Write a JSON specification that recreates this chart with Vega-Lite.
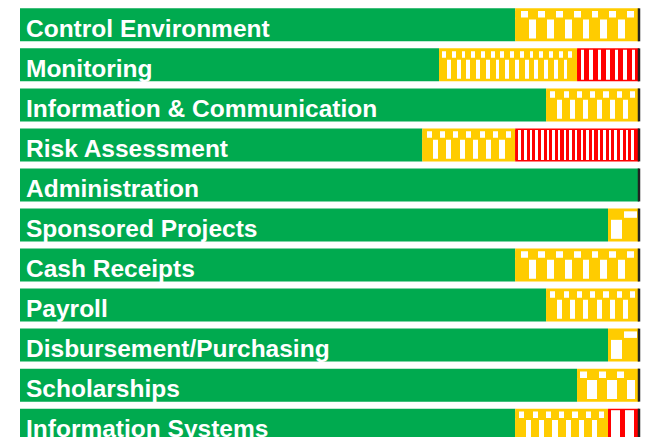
{
  "$schema": "https://vega.github.io/schema/vega-lite/v6.json",
  "width": 619,
  "height": 450,
  "padding": {"left": 20, "top": 0, "right": 0, "bottom": 0},
  "background": "white",
  "config": {"view": {"stroke": null}},
  "data": {"values": [
    {"item": "Control Environment", "level": "green", "order": 1, "value": 80},
    {"item": "Control Environment", "level": "yellow", "order": 2, "value": 20},
    {"item": "Monitoring", "level": "green", "order": 1, "value": 67.7},
    {"item": "Monitoring", "level": "yellow", "order": 2, "value": 22.3},
    {"item": "Monitoring", "level": "red", "order": 3, "value": 10},
    {"item": "Information & Communication", "level": "green", "order": 1, "value": 85},
    {"item": "Information & Communication", "level": "yellow", "order": 2, "value": 15},
    {"item": "Risk Assessment", "level": "green", "order": 1, "value": 65},
    {"item": "Risk Assessment", "level": "yellow", "order": 2, "value": 15},
    {"item": "Risk Assessment", "level": "red", "order": 3, "value": 20},
    {"item": "Administration", "level": "green", "order": 1, "value": 100},
    {"item": "Sponsored Projects", "level": "green", "order": 1, "value": 95},
    {"item": "Sponsored Projects", "level": "yellow", "order": 2, "value": 5},
    {"item": "Cash Receipts", "level": "green", "order": 1, "value": 80},
    {"item": "Cash Receipts", "level": "yellow", "order": 2, "value": 20},
    {"item": "Payroll", "level": "green", "order": 1, "value": 85},
    {"item": "Payroll", "level": "yellow", "order": 2, "value": 15},
    {"item": "Disbursement/Purchasing", "level": "green", "order": 1, "value": 95},
    {"item": "Disbursement/Purchasing", "level": "yellow", "order": 2, "value": 5},
    {"item": "Scholarships", "level": "green", "order": 1, "value": 90},
    {"item": "Scholarships", "level": "yellow", "order": 2, "value": 10},
    {"item": "Information Systems", "level": "green", "order": 1, "value": 80},
    {"item": "Information Systems", "level": "yellow", "order": 2, "value": 15},
    {"item": "Information Systems", "level": "red", "order": 3, "value": 5}
  ]},
  "transform": [
    {"stack": "value", "groupby": ["item"], "sort": [{"field": "order", "order": "ascending"}], "as": ["x0", "x1"]}
  ],
  "encoding": {
    "y": {"field": "item", "type": "nominal", "axis": null,
      "scale": {"domain": ["Control Environment", "Monitoring", "Information & Communication", "Risk Assessment", "Administration", "Sponsored Projects", "Cash Receipts", "Payroll", "Disbursement/Purchasing", "Scholarships", "Information Systems"], "paddingInner": 0.175, "paddingOuter": 0.2075}}
  },
  "layer": [
    {
      "mark": {"type": "bar"},
      "encoding": {
        "x": {"field": "x0", "type": "quantitative", "axis": null, "scale": {"domain": [0, 100], "nice": false, "zero": false}},
        "x2": {"field": "x1"},
        "color": {"field": "level", "type": "nominal", "legend": null, "scale": {"domain": ["green", "yellow", "red"], "range": ["#00AA4F", "#FFCC00", "#FF0000"]}}
      }
    },
    {
      "transform": [{"filter": "datum.level=='yellow' && indexof(['Control Environment','Information & Communication','Risk Assessment','Cash Receipts','Payroll','Information Systems'], datum.item) >= 0"}],
      "mark": {"type": "bar", "height": 19, "yOffset": 4.3, "color": {"gradient": "linear", "x1": 0, "y1": 0, "x2": 1, "y2": 0, "stops": [
        {"offset": 0, "color": "#FFCC00"},
        {"offset": 0.115, "color": "#FFCC00"}, {"offset": 0.115, "color": "#FFFFFF"}, {"offset": 0.17, "color": "#FFFFFF"}, {"offset": 0.17, "color": "#FFCC00"},
        {"offset": 0.258, "color": "#FFCC00"}, {"offset": 0.258, "color": "#FFFFFF"}, {"offset": 0.313, "color": "#FFFFFF"}, {"offset": 0.313, "color": "#FFCC00"},
        {"offset": 0.401, "color": "#FFCC00"}, {"offset": 0.401, "color": "#FFFFFF"}, {"offset": 0.456, "color": "#FFFFFF"}, {"offset": 0.456, "color": "#FFCC00"},
        {"offset": 0.544, "color": "#FFCC00"}, {"offset": 0.544, "color": "#FFFFFF"}, {"offset": 0.599, "color": "#FFFFFF"}, {"offset": 0.599, "color": "#FFCC00"},
        {"offset": 0.687, "color": "#FFCC00"}, {"offset": 0.687, "color": "#FFFFFF"}, {"offset": 0.742, "color": "#FFFFFF"}, {"offset": 0.742, "color": "#FFCC00"},
        {"offset": 0.83, "color": "#FFCC00"}, {"offset": 0.83, "color": "#FFFFFF"}, {"offset": 0.885, "color": "#FFFFFF"}, {"offset": 0.885, "color": "#FFCC00"},
        {"offset": 1, "color": "#FFCC00"}
      ]}},
      "encoding": {"x": {"field": "x0", "type": "quantitative"}, "x2": {"field": "x1"}}
    },
    {
      "transform": [{"filter": "datum.level=='yellow' && indexof(['Control Environment','Information & Communication','Risk Assessment','Cash Receipts','Payroll','Information Systems'], datum.item) >= 0"}],
      "mark": {"type": "bar", "height": 6.5, "yOffset": -10.45, "color": {"gradient": "linear", "x1": 0, "y1": 0, "x2": 1, "y2": 0, "stops": [
        {"offset": 0, "color": "#FFCC00"},
        {"offset": 0.045, "color": "#FFCC00"}, {"offset": 0.045, "color": "#FFFFFF"}, {"offset": 0.1, "color": "#FFFFFF"}, {"offset": 0.1, "color": "#FFCC00"},
        {"offset": 0.188, "color": "#FFCC00"}, {"offset": 0.188, "color": "#FFFFFF"}, {"offset": 0.243, "color": "#FFFFFF"}, {"offset": 0.243, "color": "#FFCC00"},
        {"offset": 0.331, "color": "#FFCC00"}, {"offset": 0.331, "color": "#FFFFFF"}, {"offset": 0.386, "color": "#FFFFFF"}, {"offset": 0.386, "color": "#FFCC00"},
        {"offset": 0.474, "color": "#FFCC00"}, {"offset": 0.474, "color": "#FFFFFF"}, {"offset": 0.529, "color": "#FFFFFF"}, {"offset": 0.529, "color": "#FFCC00"},
        {"offset": 0.617, "color": "#FFCC00"}, {"offset": 0.617, "color": "#FFFFFF"}, {"offset": 0.672, "color": "#FFFFFF"}, {"offset": 0.672, "color": "#FFCC00"},
        {"offset": 0.76, "color": "#FFCC00"}, {"offset": 0.76, "color": "#FFFFFF"}, {"offset": 0.815, "color": "#FFFFFF"}, {"offset": 0.815, "color": "#FFCC00"},
        {"offset": 0.903, "color": "#FFCC00"}, {"offset": 0.903, "color": "#FFFFFF"}, {"offset": 0.958, "color": "#FFFFFF"}, {"offset": 0.958, "color": "#FFCC00"},
        {"offset": 1, "color": "#FFCC00"}
      ]}},
      "encoding": {"x": {"field": "x0", "type": "quantitative"}, "x2": {"field": "x1"}}
    },
    {
      "transform": [{"filter": "datum.level=='yellow' && datum.item=='Monitoring'"}],
      "mark": {"type": "bar", "height": 19, "yOffset": 4.3, "color": {"gradient": "linear", "x1": 0, "y1": 0, "x2": 1, "y2": 0, "stops": [
        {"offset": 0, "color": "#FFCC00"},
        {"offset": 0.057, "color": "#FFCC00"}, {"offset": 0.057, "color": "#FFFFFF"}, {"offset": 0.085, "color": "#FFFFFF"}, {"offset": 0.085, "color": "#FFCC00"},
        {"offset": 0.1274, "color": "#FFCC00"}, {"offset": 0.1274, "color": "#FFFFFF"}, {"offset": 0.1554, "color": "#FFFFFF"}, {"offset": 0.1554, "color": "#FFCC00"},
        {"offset": 0.1978, "color": "#FFCC00"}, {"offset": 0.1978, "color": "#FFFFFF"}, {"offset": 0.2258, "color": "#FFFFFF"}, {"offset": 0.2258, "color": "#FFCC00"},
        {"offset": 0.2682, "color": "#FFCC00"}, {"offset": 0.2682, "color": "#FFFFFF"}, {"offset": 0.2962, "color": "#FFFFFF"}, {"offset": 0.2962, "color": "#FFCC00"},
        {"offset": 0.3386, "color": "#FFCC00"}, {"offset": 0.3386, "color": "#FFFFFF"}, {"offset": 0.3666, "color": "#FFFFFF"}, {"offset": 0.3666, "color": "#FFCC00"},
        {"offset": 0.409, "color": "#FFCC00"}, {"offset": 0.409, "color": "#FFFFFF"}, {"offset": 0.437, "color": "#FFFFFF"}, {"offset": 0.437, "color": "#FFCC00"},
        {"offset": 0.4794, "color": "#FFCC00"}, {"offset": 0.4794, "color": "#FFFFFF"}, {"offset": 0.5074, "color": "#FFFFFF"}, {"offset": 0.5074, "color": "#FFCC00"},
        {"offset": 0.5498, "color": "#FFCC00"}, {"offset": 0.5498, "color": "#FFFFFF"}, {"offset": 0.5778, "color": "#FFFFFF"}, {"offset": 0.5778, "color": "#FFCC00"},
        {"offset": 0.6202, "color": "#FFCC00"}, {"offset": 0.6202, "color": "#FFFFFF"}, {"offset": 0.6482, "color": "#FFFFFF"}, {"offset": 0.6482, "color": "#FFCC00"},
        {"offset": 0.6906, "color": "#FFCC00"}, {"offset": 0.6906, "color": "#FFFFFF"}, {"offset": 0.7186, "color": "#FFFFFF"}, {"offset": 0.7186, "color": "#FFCC00"},
        {"offset": 0.761, "color": "#FFCC00"}, {"offset": 0.761, "color": "#FFFFFF"}, {"offset": 0.789, "color": "#FFFFFF"}, {"offset": 0.789, "color": "#FFCC00"},
        {"offset": 0.8314, "color": "#FFCC00"}, {"offset": 0.8314, "color": "#FFFFFF"}, {"offset": 0.8594, "color": "#FFFFFF"}, {"offset": 0.8594, "color": "#FFCC00"},
        {"offset": 0.9018, "color": "#FFCC00"}, {"offset": 0.9018, "color": "#FFFFFF"}, {"offset": 0.9298, "color": "#FFFFFF"}, {"offset": 0.9298, "color": "#FFCC00"},
        {"offset": 1, "color": "#FFCC00"}
      ]}},
      "encoding": {"x": {"field": "x0", "type": "quantitative"}, "x2": {"field": "x1"}}
    },
    {
      "transform": [{"filter": "datum.level=='yellow' && datum.item=='Monitoring'"}],
      "mark": {"type": "bar", "height": 6.5, "yOffset": -10.45, "color": {"gradient": "linear", "x1": 0, "y1": 0, "x2": 1, "y2": 0, "stops": [
        {"offset": 0, "color": "#FFCC00"},
        {"offset": 0.022, "color": "#FFCC00"}, {"offset": 0.022, "color": "#FFFFFF"}, {"offset": 0.05, "color": "#FFFFFF"}, {"offset": 0.05, "color": "#FFCC00"},
        {"offset": 0.0924, "color": "#FFCC00"}, {"offset": 0.0924, "color": "#FFFFFF"}, {"offset": 0.1204, "color": "#FFFFFF"}, {"offset": 0.1204, "color": "#FFCC00"},
        {"offset": 0.1628, "color": "#FFCC00"}, {"offset": 0.1628, "color": "#FFFFFF"}, {"offset": 0.1908, "color": "#FFFFFF"}, {"offset": 0.1908, "color": "#FFCC00"},
        {"offset": 0.2332, "color": "#FFCC00"}, {"offset": 0.2332, "color": "#FFFFFF"}, {"offset": 0.2612, "color": "#FFFFFF"}, {"offset": 0.2612, "color": "#FFCC00"},
        {"offset": 0.3036, "color": "#FFCC00"}, {"offset": 0.3036, "color": "#FFFFFF"}, {"offset": 0.3316, "color": "#FFFFFF"}, {"offset": 0.3316, "color": "#FFCC00"},
        {"offset": 0.374, "color": "#FFCC00"}, {"offset": 0.374, "color": "#FFFFFF"}, {"offset": 0.402, "color": "#FFFFFF"}, {"offset": 0.402, "color": "#FFCC00"},
        {"offset": 0.4444, "color": "#FFCC00"}, {"offset": 0.4444, "color": "#FFFFFF"}, {"offset": 0.4724, "color": "#FFFFFF"}, {"offset": 0.4724, "color": "#FFCC00"},
        {"offset": 0.5148, "color": "#FFCC00"}, {"offset": 0.5148, "color": "#FFFFFF"}, {"offset": 0.5428, "color": "#FFFFFF"}, {"offset": 0.5428, "color": "#FFCC00"},
        {"offset": 0.5852, "color": "#FFCC00"}, {"offset": 0.5852, "color": "#FFFFFF"}, {"offset": 0.6132, "color": "#FFFFFF"}, {"offset": 0.6132, "color": "#FFCC00"},
        {"offset": 0.6556, "color": "#FFCC00"}, {"offset": 0.6556, "color": "#FFFFFF"}, {"offset": 0.6836, "color": "#FFFFFF"}, {"offset": 0.6836, "color": "#FFCC00"},
        {"offset": 0.726, "color": "#FFCC00"}, {"offset": 0.726, "color": "#FFFFFF"}, {"offset": 0.754, "color": "#FFFFFF"}, {"offset": 0.754, "color": "#FFCC00"},
        {"offset": 0.7964, "color": "#FFCC00"}, {"offset": 0.7964, "color": "#FFFFFF"}, {"offset": 0.8244, "color": "#FFFFFF"}, {"offset": 0.8244, "color": "#FFCC00"},
        {"offset": 0.8668, "color": "#FFCC00"}, {"offset": 0.8668, "color": "#FFFFFF"}, {"offset": 0.8948, "color": "#FFFFFF"}, {"offset": 0.8948, "color": "#FFCC00"},
        {"offset": 0.9372, "color": "#FFCC00"}, {"offset": 0.9372, "color": "#FFFFFF"}, {"offset": 0.9652, "color": "#FFFFFF"}, {"offset": 0.9652, "color": "#FFCC00"},
        {"offset": 1, "color": "#FFCC00"}
      ]}},
      "encoding": {"x": {"field": "x0", "type": "quantitative"}, "x2": {"field": "x1"}}
    },
    {
      "transform": [{"filter": "datum.level=='yellow' && (datum.item=='Sponsored Projects' || datum.item=='Disbursement/Purchasing')"}],
      "mark": {"type": "bar", "height": 19, "yOffset": 4.3, "color": {"gradient": "linear", "x1": 0, "y1": 0, "x2": 1, "y2": 0, "stops": [
        {"offset": 0, "color": "#FFCC00"},
        {"offset": 0.1, "color": "#FFCC00"}, {"offset": 0.1, "color": "#FFFFFF"}, {"offset": 0.45, "color": "#FFFFFF"}, {"offset": 0.45, "color": "#FFCC00"},
        {"offset": 1, "color": "#FFCC00"}
      ]}},
      "encoding": {"x": {"field": "x0", "type": "quantitative"}, "x2": {"field": "x1"}}
    },
    {
      "transform": [{"filter": "datum.level=='yellow' && (datum.item=='Sponsored Projects' || datum.item=='Disbursement/Purchasing')"}],
      "mark": {"type": "bar", "height": 6.5, "yOffset": -10.45, "color": {"gradient": "linear", "x1": 0, "y1": 0, "x2": 1, "y2": 0, "stops": [
        {"offset": 0, "color": "#FFCC00"},
        {"offset": 0.5, "color": "#FFCC00"}, {"offset": 0.5, "color": "#FFFFFF"}, {"offset": 0.92, "color": "#FFFFFF"}, {"offset": 0.92, "color": "#FFCC00"},
        {"offset": 1, "color": "#FFCC00"}
      ]}},
      "encoding": {"x": {"field": "x0", "type": "quantitative"}, "x2": {"field": "x1"}}
    },
    {
      "transform": [{"filter": "datum.level=='yellow' && datum.item=='Scholarships'"}],
      "mark": {"type": "bar", "height": 19, "yOffset": 4.3, "color": {"gradient": "linear", "x1": 0, "y1": 0, "x2": 1, "y2": 0, "stops": [
        {"offset": 0, "color": "#FFCC00"},
        {"offset": 0.16, "color": "#FFCC00"}, {"offset": 0.16, "color": "#FFFFFF"}, {"offset": 0.32, "color": "#FFFFFF"}, {"offset": 0.32, "color": "#FFCC00"},
        {"offset": 0.48, "color": "#FFCC00"}, {"offset": 0.48, "color": "#FFFFFF"}, {"offset": 0.64, "color": "#FFFFFF"}, {"offset": 0.64, "color": "#FFCC00"},
        {"offset": 0.8, "color": "#FFCC00"}, {"offset": 0.8, "color": "#FFFFFF"}, {"offset": 0.94, "color": "#FFFFFF"}, {"offset": 0.94, "color": "#FFCC00"},
        {"offset": 1, "color": "#FFCC00"}
      ]}},
      "encoding": {"x": {"field": "x0", "type": "quantitative"}, "x2": {"field": "x1"}}
    },
    {
      "transform": [{"filter": "datum.level=='yellow' && datum.item=='Scholarships'"}],
      "mark": {"type": "bar", "height": 6.5, "yOffset": -10.45, "color": {"gradient": "linear", "x1": 0, "y1": 0, "x2": 1, "y2": 0, "stops": [
        {"offset": 0, "color": "#FFCC00"},
        {"offset": 0.05, "color": "#FFCC00"}, {"offset": 0.05, "color": "#FFFFFF"}, {"offset": 0.16, "color": "#FFFFFF"}, {"offset": 0.16, "color": "#FFCC00"},
        {"offset": 0.35, "color": "#FFCC00"}, {"offset": 0.35, "color": "#FFFFFF"}, {"offset": 0.46, "color": "#FFFFFF"}, {"offset": 0.46, "color": "#FFCC00"},
        {"offset": 0.65, "color": "#FFCC00"}, {"offset": 0.65, "color": "#FFFFFF"}, {"offset": 0.76, "color": "#FFFFFF"}, {"offset": 0.76, "color": "#FFCC00"},
        {"offset": 1, "color": "#FFCC00"}
      ]}},
      "encoding": {"x": {"field": "x0", "type": "quantitative"}, "x2": {"field": "x1"}}
    },
    {
      "transform": [{"filter": "datum.level=='red' && datum.item=='Monitoring'"}],
      "mark": {"type": "bar", "height": 30, "color": {"gradient": "linear", "x1": 0, "y1": 0, "x2": 1, "y2": 0, "stops": [
        {"offset": 0, "color": "#FF0000"},
        {"offset": 0.06, "color": "#FF0000"}, {"offset": 0.06, "color": "#FFFFFF"}, {"offset": 0.115, "color": "#FFFFFF"}, {"offset": 0.115, "color": "#FF0000"},
        {"offset": 0.197, "color": "#FF0000"}, {"offset": 0.197, "color": "#FFFFFF"}, {"offset": 0.252, "color": "#FFFFFF"}, {"offset": 0.252, "color": "#FF0000"},
        {"offset": 0.334, "color": "#FF0000"}, {"offset": 0.334, "color": "#FFFFFF"}, {"offset": 0.389, "color": "#FFFFFF"}, {"offset": 0.389, "color": "#FF0000"},
        {"offset": 0.471, "color": "#FF0000"}, {"offset": 0.471, "color": "#FFFFFF"}, {"offset": 0.526, "color": "#FFFFFF"}, {"offset": 0.526, "color": "#FF0000"},
        {"offset": 0.608, "color": "#FF0000"}, {"offset": 0.608, "color": "#FFFFFF"}, {"offset": 0.663, "color": "#FFFFFF"}, {"offset": 0.663, "color": "#FF0000"},
        {"offset": 0.745, "color": "#FF0000"}, {"offset": 0.745, "color": "#FFFFFF"}, {"offset": 0.8, "color": "#FFFFFF"}, {"offset": 0.8, "color": "#FF0000"},
        {"offset": 0.882, "color": "#FF0000"}, {"offset": 0.882, "color": "#FFFFFF"}, {"offset": 0.937, "color": "#FFFFFF"}, {"offset": 0.937, "color": "#FF0000"},
        {"offset": 1, "color": "#FF0000"}
      ]}},
      "encoding": {"x": {"field": "x0", "type": "quantitative"}, "x2": {"field": "x1"}}
    },
    {
      "transform": [{"filter": "datum.level=='red' && datum.item=='Risk Assessment'"}],
      "mark": {"type": "bar", "height": 30, "color": {"gradient": "linear", "x1": 0, "y1": 0, "x2": 1, "y2": 0, "stops": [
        {"offset": 0, "color": "#FF0000"},
        {"offset": 0.025, "color": "#FF0000"}, {"offset": 0.025, "color": "#FFFFFF"}, {"offset": 0.046, "color": "#FFFFFF"}, {"offset": 0.046, "color": "#FF0000"},
        {"offset": 0.0707, "color": "#FF0000"}, {"offset": 0.0707, "color": "#FFFFFF"}, {"offset": 0.0917, "color": "#FFFFFF"}, {"offset": 0.0917, "color": "#FF0000"},
        {"offset": 0.1164, "color": "#FF0000"}, {"offset": 0.1164, "color": "#FFFFFF"}, {"offset": 0.1374, "color": "#FFFFFF"}, {"offset": 0.1374, "color": "#FF0000"},
        {"offset": 0.1621, "color": "#FF0000"}, {"offset": 0.1621, "color": "#FFFFFF"}, {"offset": 0.1831, "color": "#FFFFFF"}, {"offset": 0.1831, "color": "#FF0000"},
        {"offset": 0.2078, "color": "#FF0000"}, {"offset": 0.2078, "color": "#FFFFFF"}, {"offset": 0.2288, "color": "#FFFFFF"}, {"offset": 0.2288, "color": "#FF0000"},
        {"offset": 0.2535, "color": "#FF0000"}, {"offset": 0.2535, "color": "#FFFFFF"}, {"offset": 0.2745, "color": "#FFFFFF"}, {"offset": 0.2745, "color": "#FF0000"},
        {"offset": 0.2992, "color": "#FF0000"}, {"offset": 0.2992, "color": "#FFFFFF"}, {"offset": 0.3202, "color": "#FFFFFF"}, {"offset": 0.3202, "color": "#FF0000"},
        {"offset": 0.3449, "color": "#FF0000"}, {"offset": 0.3449, "color": "#FFFFFF"}, {"offset": 0.3659, "color": "#FFFFFF"}, {"offset": 0.3659, "color": "#FF0000"},
        {"offset": 0.3906, "color": "#FF0000"}, {"offset": 0.3906, "color": "#FFFFFF"}, {"offset": 0.4116, "color": "#FFFFFF"}, {"offset": 0.4116, "color": "#FF0000"},
        {"offset": 0.4363, "color": "#FF0000"}, {"offset": 0.4363, "color": "#FFFFFF"}, {"offset": 0.4573, "color": "#FFFFFF"}, {"offset": 0.4573, "color": "#FF0000"},
        {"offset": 0.482, "color": "#FF0000"}, {"offset": 0.482, "color": "#FFFFFF"}, {"offset": 0.503, "color": "#FFFFFF"}, {"offset": 0.503, "color": "#FF0000"},
        {"offset": 0.5277, "color": "#FF0000"}, {"offset": 0.5277, "color": "#FFFFFF"}, {"offset": 0.5487, "color": "#FFFFFF"}, {"offset": 0.5487, "color": "#FF0000"},
        {"offset": 0.5734, "color": "#FF0000"}, {"offset": 0.5734, "color": "#FFFFFF"}, {"offset": 0.5944, "color": "#FFFFFF"}, {"offset": 0.5944, "color": "#FF0000"},
        {"offset": 0.6191, "color": "#FF0000"}, {"offset": 0.6191, "color": "#FFFFFF"}, {"offset": 0.6401, "color": "#FFFFFF"}, {"offset": 0.6401, "color": "#FF0000"},
        {"offset": 0.6648, "color": "#FF0000"}, {"offset": 0.6648, "color": "#FFFFFF"}, {"offset": 0.6858, "color": "#FFFFFF"}, {"offset": 0.6858, "color": "#FF0000"},
        {"offset": 0.7105, "color": "#FF0000"}, {"offset": 0.7105, "color": "#FFFFFF"}, {"offset": 0.7315, "color": "#FFFFFF"}, {"offset": 0.7315, "color": "#FF0000"},
        {"offset": 0.7562, "color": "#FF0000"}, {"offset": 0.7562, "color": "#FFFFFF"}, {"offset": 0.7772, "color": "#FFFFFF"}, {"offset": 0.7772, "color": "#FF0000"},
        {"offset": 0.8019, "color": "#FF0000"}, {"offset": 0.8019, "color": "#FFFFFF"}, {"offset": 0.8229, "color": "#FFFFFF"}, {"offset": 0.8229, "color": "#FF0000"},
        {"offset": 0.8476, "color": "#FF0000"}, {"offset": 0.8476, "color": "#FFFFFF"}, {"offset": 0.8686, "color": "#FFFFFF"}, {"offset": 0.8686, "color": "#FF0000"},
        {"offset": 0.8933, "color": "#FF0000"}, {"offset": 0.8933, "color": "#FFFFFF"}, {"offset": 0.9143, "color": "#FFFFFF"}, {"offset": 0.9143, "color": "#FF0000"},
        {"offset": 0.939, "color": "#FF0000"}, {"offset": 0.939, "color": "#FFFFFF"}, {"offset": 0.96, "color": "#FFFFFF"}, {"offset": 0.96, "color": "#FF0000"},
        {"offset": 1, "color": "#FF0000"}
      ]}},
      "encoding": {"x": {"field": "x0", "type": "quantitative"}, "x2": {"field": "x1"}}
    },
    {
      "transform": [{"filter": "datum.level=='red' && datum.item=='Information Systems'"}],
      "mark": {"type": "bar", "height": 30, "color": {"gradient": "linear", "x1": 0, "y1": 0, "x2": 1, "y2": 0, "stops": [
        {"offset": 0, "color": "#FF0000"},
        {"offset": 0.11, "color": "#FF0000"}, {"offset": 0.11, "color": "#FFFFFF"}, {"offset": 0.39, "color": "#FFFFFF"}, {"offset": 0.39, "color": "#FF0000"},
        {"offset": 0.56, "color": "#FF0000"}, {"offset": 0.56, "color": "#FFFFFF"}, {"offset": 0.83, "color": "#FFFFFF"}, {"offset": 0.83, "color": "#FF0000"},
        {"offset": 1, "color": "#FF0000"}
      ]}},
      "encoding": {"x": {"field": "x0", "type": "quantitative"}, "x2": {"field": "x1"}}
    },
    {
      "transform": [{"filter": "datum.level=='green'"}],
      "mark": {"type": "tick", "orient": "vertical", "thickness": 2.5, "size": 33, "color": "#222222", "opacity": 1},
      "encoding": {"x": {"datum": 100, "type": "quantitative"}}
    },
    {
      "transform": [{"filter": "datum.level=='green'"}],
      "mark": {"type": "text", "align": "left", "baseline": "alphabetic", "dx": 6, "dy": 12, "font": "Liberation Sans", "fontWeight": "bold", "fontSize": 24.5, "color": "#FFFFFF"},
      "encoding": {"x": {"datum": 0, "type": "quantitative"}, "text": {"field": "item", "type": "nominal"}}
    }
  ]
}
